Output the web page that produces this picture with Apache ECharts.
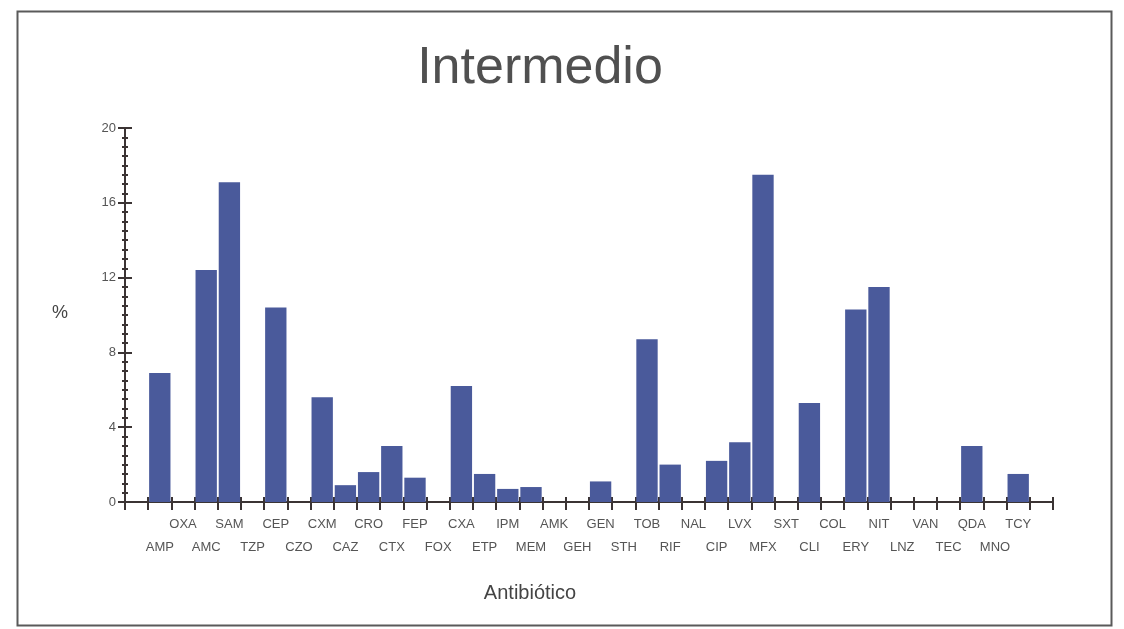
<!DOCTYPE html>
<html>
<head>
<meta charset="utf-8">
<script src="https://cdn.jsdelivr.net/npm/echarts@6/dist/echarts.min.js"></script>
<style>
html,body{margin:0;padding:0;background:#fff;}
#chart{width:1124px;height:629px;}
</style>
</head>
<body>
<div id="chart"></div>
<script>
const titleText = 'Intermedio';
const xAxisTitle = 'Antibiótico';
const yAxisTitle = '%';
const categories = ['AMP','OXA','AMC','SAM','TZP','CEP','CZO','CXM','CAZ','CRO','CTX','FEP','FOX','CXA','ETP','IPM','MEM','AMK','GEH','GEN','STH','TOB','RIF','NAL','CIP','LVX','MFX','SXT','CLI','COL','ERY','NIT','LNZ','VAN','TEC','QDA','MNO','TCY'];
const values = [6.9,0,12.4,17.1,0,10.4,0,5.6,0.9,1.6,3.0,1.3,0,6.2,1.5,0.7,0.8,0,0,1.1,0,8.7,2.0,0,2.2,3.2,17.5,0,5.3,0,10.3,11.5,0,0,0,3.0,0,1.5];
const yTicks = [0,4,8,12,16,20];

// padded axis: one empty slot at each end
const axisCats = [''].concat(categories, ['']);
const axisVals = [null].concat(values, [null]);

const axisColor = '#3b3434';
const labelColor = '#555';
const chart = echarts.init(document.getElementById('chart'), null, {renderer:'canvas'});
const option = {
  backgroundColor: '#ffffff',
  animation: false,
  grid: {left: 125, right: 71, top: 128, bottom: 127, containLabel: false},
  xAxis: [{
    type: 'category',
    data: axisCats,
    position: 'bottom',
    boundaryGap: true,
    axisLine: {show: true, lineStyle: {color: axisColor, width: 2}},
    axisTick: {show: true, interval: 0, length: 8, lineStyle: {color: axisColor, width: 2}},
    axisLabel: {
      interval: 0, margin: 11, color: labelColor, fontSize: 13,
      fontFamily: 'Liberation Sans, Arial, sans-serif', lineHeight: 23,
      formatter: function (v, i) { return (i % 2 === 1) ? '\n' + v : v; }
    },
    splitLine: {show: false}
  }, {
    type: 'category',
    data: axisCats,
    position: 'bottom',
    boundaryGap: true,
    axisLine: {show: false},
    axisTick: {show: true, inside: true, interval: 0, length: 5, lineStyle: {color: axisColor, width: 2}},
    axisLabel: {show: false},
    splitLine: {show: false}
  }],
  yAxis: [{
    type: 'value',
    min: yTicks[0], max: yTicks[yTicks.length - 1], interval: 4,
    axisLine: {show: true, lineStyle: {color: axisColor, width: 2}},
    axisTick: {show: true, length: 7, lineStyle: {color: axisColor, width: 2}},
    minorTick: {show: true, splitNumber: 8, length: 3, lineStyle: {color: axisColor, width: 2}},
    axisLabel: {margin: 9, color: labelColor, fontSize: 13, fontFamily: 'Liberation Sans, Arial, sans-serif'},
    splitLine: {show: false}
  }, {
    type: 'value',
    position: 'left',
    min: yTicks[0], max: yTicks[yTicks.length - 1], interval: 4,
    axisLine: {show: false},
    axisTick: {show: true, inside: true, length: 7, lineStyle: {color: axisColor, width: 2}},
    minorTick: {show: true, splitNumber: 8, length: 3, lineStyle: {color: axisColor, width: 2}},
    axisLabel: {show: false},
    splitLine: {show: false}
  }],
  series: [{
    type: 'bar',
    data: axisVals,
    xAxisIndex: 0,
    yAxisIndex: 0,
    barCategoryGap: '8%',
    itemStyle: {color: '#4a5a9b'}
  }],
  graphic: [
    {type: 'rect', left: 15, top: 9, shape: {width: 1094, height: 614},
     style: {fill: 'none', stroke: '#5a5a5a', lineWidth: 2}, silent: true},
    {type: 'text', x: 540, y: 69,
     style: {text: titleText, fill: '#505050', font: '52px "Liberation Sans", Arial, sans-serif',
             textAlign: 'center', textVerticalAlign: 'middle', align: 'center', verticalAlign: 'middle'}},
    {type: 'text', x: 530, y: 593,
     style: {text: xAxisTitle, fill: '#444', font: '20px "Liberation Sans", Arial, sans-serif',
             textAlign: 'center', textVerticalAlign: 'middle', align: 'center', verticalAlign: 'middle'}},
    {type: 'text', x: 60, y: 313,
     style: {text: yAxisTitle, fill: '#444', font: '18px "Liberation Sans", Arial, sans-serif',
             textAlign: 'center', textVerticalAlign: 'middle', align: 'center', verticalAlign: 'middle'}}
  ]
};
chart.setOption(option);
</script>
</body>
</html>
